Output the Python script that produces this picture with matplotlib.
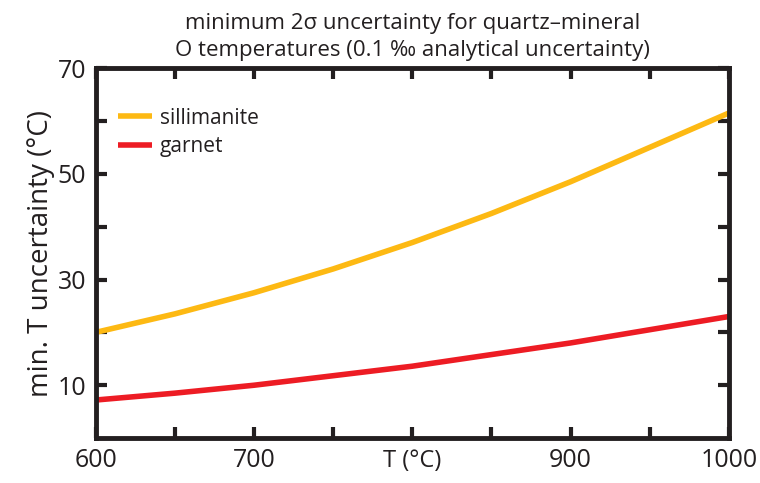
import matplotlib.pyplot as plt
import numpy as np

plt.rcParams["font.family"] = ["Open Sans", "DejaVu Sans"]

# values
temps = [600, 650, 700, 750, 800, 850, 900, 950, 1000]
sillimanite = [20.0, 23.5, 27.5, 32.0, 37.0, 42.5, 48.5, 55.0, 61.5]
garnet = [7.2, 8.5, 10.0, 11.8, 13.6, 15.8, 18.0, 20.5, 23.0]

txt = "#231f20"

fig = plt.figure(figsize=(7.6, 4.83), dpi=100)
ax = fig.add_axes([0.126, 0.093, 0.833, 0.766])

ax.plot(temps, sillimanite, color="#fdb913", lw=4, label="sillimanite", solid_capstyle="butt")
ax.plot(temps, garnet, color="#ed1c24", lw=4, label="garnet", solid_capstyle="butt")

ax.set_xlim(600, 1000)
ax.set_ylim(0, 70)
ax.set_xticks(np.arange(600, 1001, 50))
# the 800 slot is taken by the axis title
ax.set_xticklabels(["600", "", "700", "", "", "", "900", "", "1000"])
ax.set_yticks(np.arange(10, 71, 10))
ax.set_yticklabels(["10", "", "30", "", "50", "", "70"])
ax.tick_params(direction="in", length=8, width=3, top=True, right=True,
               labelsize=18, colors=txt, pad=7)
for s in ax.spines.values():
    s.set_linewidth(3.5)
    s.set_color(txt)

ax.text(800, -0.03, "T (°C)", transform=ax.get_xaxis_transform(), ha="center", va="top",
        fontsize=17, color=txt)
ax.set_ylabel("min. T uncertainty (°C)", fontsize=20, color=txt, labelpad=2)
ax.set_title("minimum 2σ uncertainty for quartz–mineral\nO temperatures (0.1 ‰ analytical uncertainty)",
             fontsize=16, color=txt, pad=9, linespacing=1.35)

leg = ax.legend(loc="upper left", bbox_to_anchor=(-0.027, 1.0), frameon=False, fontsize=15,
                handlelength=1.6, handletextpad=0.4, borderaxespad=1.5, labelspacing=0.35)
for t in leg.get_texts():
    t.set_color(txt)

fig.savefig("out.png", dpi=100)
